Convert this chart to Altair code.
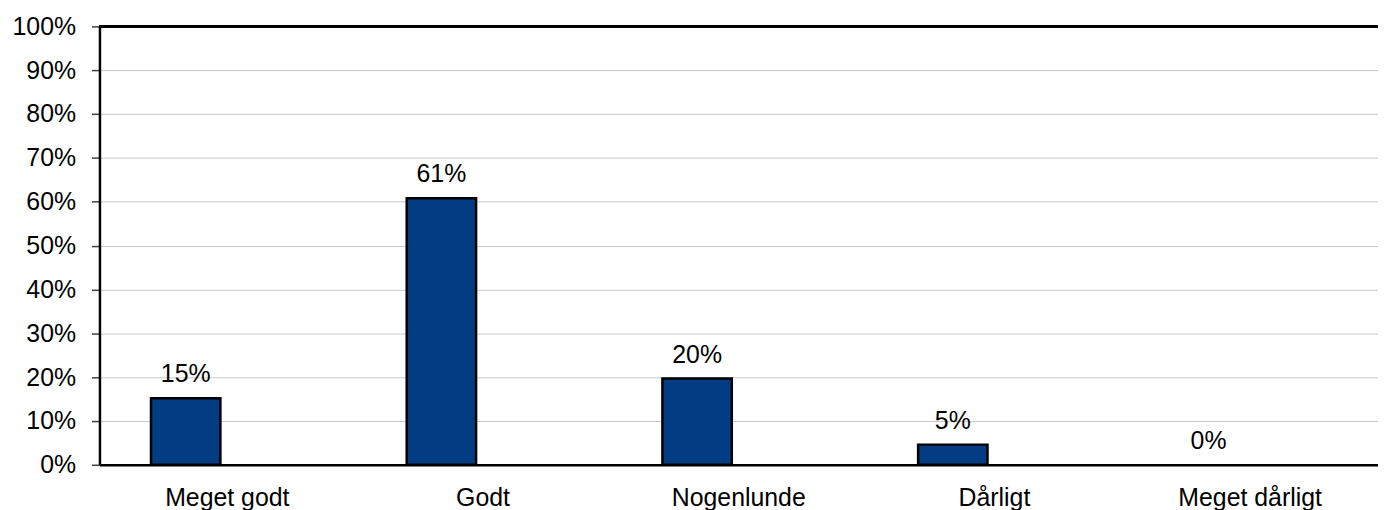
import altair as alt
import pandas as pd

categories = ["Meget godt", "Godt", "Nogenlunde", "Dårligt", "Meget dårligt"]
shares = [0.152, 0.608, 0.197, 0.046, 0.0]
series_domain = ["Svar", "Tom"]
y_ticks = [0, 0.1, 0.2, 0.3, 0.4, 0.5, 0.6, 0.7, 0.8, 0.9, 1.0]

df = pd.DataFrame({
    "kategori": categories,
    "andel": shares,
    "serie": [series_domain[0]] * len(categories),
})

FONT = "Liberation Sans"
FS = 25
BAR = "#023C82"

x_enc = alt.X(
    "kategori:N",
    sort=categories,
    scale=alt.Scale(paddingInner=0, paddingOuter=0),
    axis=alt.Axis(
        title=None, labelAngle=0, ticks=False, grid=False,
        domainColor="#000000", domainWidth=2.5,
        labelFontSize=FS, labelColor="#000000", labelFont=FONT,
        labelPadding=21,
    ),
)
xoff_enc = alt.XOffset(
    "serie:N",
    scale=alt.Scale(domain=series_domain, paddingInner=0.1667, paddingOuter=0.619),
)
y_enc = alt.Y(
    "andel:Q",
    scale=alt.Scale(domain=[0, 1], nice=False),
    axis=alt.Axis(
        title=None, values=y_ticks, format=".0%",
        grid=True, gridColor="#C8C8C8", gridWidth=1,
        domainColor="#000000", domainWidth=2.5,
        tickColor="#404040", tickSize=8, tickWidth=1.5,
        labelFontSize=FS, labelColor="#000000", labelFont=FONT,
        labelPadding=16,
    ),
)

bars = alt.Chart(df).transform_filter(
    alt.datum.andel > 0
).mark_bar(
    color=BAR, stroke="#000000", strokeWidth=2.5
).encode(x=x_enc, xOffset=xoff_enc, y=y_enc)

labels = alt.Chart(df).mark_text(
    baseline="alphabetic", dy=-16, fontSize=FS, font=FONT, color="#000000"
).encode(
    x=alt.X("kategori:N", sort=categories),
    xOffset=alt.XOffset("serie:N"),
    y=alt.Y("andel:Q"),
    text=alt.Text("andel:Q", format=".0%"),
)

top_line = alt.Chart(df).mark_rule(color="#000000", strokeWidth=2.5).encode(
    y=alt.datum(1.0)
)

chart = alt.layer(bars, labels, top_line).properties(
    width=1286,
    height=441,
    autosize=alt.AutoSizeParams(type="none"),
    padding={"left": 92, "top": 17, "right": 0, "bottom": 44},
).configure_view(stroke=None).configure(font=FONT)

chart.save("out.html", embed_options={"renderer": "svg", "actions": False})
